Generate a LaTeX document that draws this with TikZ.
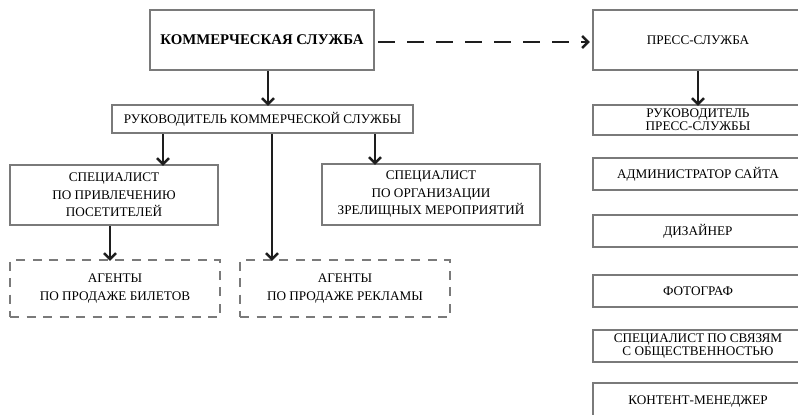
\documentclass[tikz,border=0pt]{standalone}
\usepackage{fontspec}
\setmainfont{Liberation Serif}
\usetikzlibrary{arrows.meta}
\definecolor{boxgray}{HTML}{7A7A7A}
\definecolor{arrblack}{HTML}{1E1E1E}
\tikzset{
  box/.style={draw=boxgray, line width=2.4pt, rectangle, inner sep=0pt, align=center,
    font=\fontsize{13.2}{17.5}\selectfont, text=black},
  tightbox/.style={box, font=\fontsize{13.2}{13}\selectfont},
  dbox/.style={box, dash pattern=on 9pt off 7.5pt},
  arr/.style={draw=arrblack, line width=2.4pt, -{Straight Barb[length=6pt,width=12pt,line width=2.4pt]}},
  darr/.style={arr, dash pattern=on 17pt off 12pt},
}
\begin{document}
\begin{tikzpicture}[x=1pt,y=-1pt]
\useasboundingbox (0,0) rectangle (798,415);
\clip (0,0) rectangle (798,415);
% left part
\node[box, minimum width=224pt, minimum height=60pt, font=\bfseries\fontsize{14.8}{17}\selectfont] (komm) at (262,40) {КОММЕРЧЕСКАЯ СЛУЖБА};
\node[box, minimum width=301pt, minimum height=28pt] (ruk) at (262.5,119) {РУКОВОДИТЕЛЬ КОММЕРЧЕСКОЙ СЛУЖБЫ};
\node[box, minimum width=208pt, minimum height=60pt] (spec1) at (114,195) {СПЕЦИАЛИСТ\\ПО ПРИВЛЕЧЕНИЮ\\ПОСЕТИТЕЛЕЙ};
\node[box, minimum width=218pt, minimum height=61pt] (spec2) at (431,194.5) {СПЕЦИАЛИСТ\\ПО ОРГАНИЗАЦИИ\\ЗРЕЛИЩНЫХ МЕРОПРИЯТИЙ};
\node[dbox, minimum width=210pt, minimum height=57pt] (ag1) at (115,288.5) {АГЕНТЫ\\ПО ПРОДАЖЕ БИЛЕТОВ};
\node[dbox, minimum width=210pt, minimum height=57pt] (ag2) at (345,288.5) {АГЕНТЫ\\ПО ПРОДАЖЕ РЕКЛАМЫ};
% right column
\node[box, minimum width=210pt, minimum height=60pt] (press) at (698,40) {ПРЕСС-СЛУЖБА};
\node[tightbox, minimum width=210pt, minimum height=30pt] (rukp) at (698,120) {РУКОВОДИТЕЛЬ\\ПРЕСС-СЛУЖБЫ};
\node[box, minimum width=210pt, minimum height=32pt] (admin) at (698,174) {АДМИНИСТРАТОР САЙТА};
\node[box, minimum width=210pt, minimum height=32pt] (diz) at (698,231) {ДИЗАЙНЕР};
\node[box, minimum width=210pt, minimum height=32pt] (foto) at (698,291) {ФОТОГРАФ};
\node[tightbox, minimum width=210pt, minimum height=32pt] (pr) at (698,346) {СПЕЦИАЛИСТ ПО СВЯЗЯМ\\С ОБЩЕСТВЕННОСТЬЮ};
\node[box, minimum width=210pt, minimum height=38pt] (cont) at (698,402) {\raisebox{3pt}{КОНТЕНТ-МЕНЕДЖЕР}};
% connector x positions
\coordinate (x1) at (268,0);
\coordinate (x2) at (163,0);
\coordinate (x3) at (272,0);
\coordinate (x4) at (375,0);
\coordinate (x5) at (110,0);
\coordinate (x6) at (698,0);
\coordinate (y1) at (0,42);
% connectors
\draw[arr] (komm.south -| x1) -- ([yshift=-2pt]ruk.north -| x1);
\draw[arr] (ruk.south -| x2) -- ([yshift=-2pt]spec1.north -| x2);
\draw[arr] (ruk.south -| x3) -- ([yshift=-2pt]ag2.north -| x3);
\draw[arr] (ruk.south -| x4) -- ([yshift=-2pt]spec2.north -| x4);
\draw[arr] (spec1.south -| x5) -- ([yshift=-2pt]ag1.north -| x5);
\draw[arr] (press.south -| x6) -- ([yshift=-2pt]rukp.north -| x6);
\draw[darr] ([xshift=3pt]komm.east |- y1) -- ([xshift=-2pt]press.west |- y1);
\end{tikzpicture}
\end{document}
